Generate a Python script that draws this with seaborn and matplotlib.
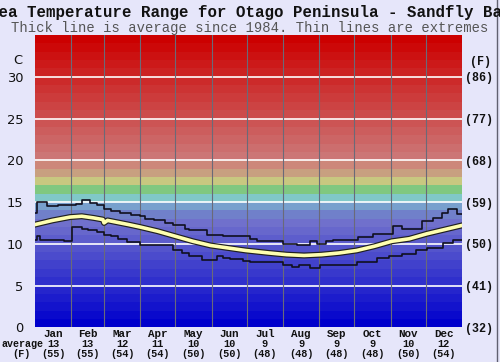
import numpy as np
import pandas as pd
import seaborn as sns
import matplotlib
matplotlib.use("Agg")
import matplotlib.pyplot as plt
import matplotlib.patheffects as pe
from matplotlib.transforms import blended_transform_factory
from matplotlib.lines import Line2D

# ---------------- data ----------------
months = ["Jan", "Feb", "Mar", "Apr", "May", "Jun", "Jul", "Aug", "Sep", "Oct", "Nov", "Dec"]
month_days = [31, 28, 31, 30, 31, 30, 31, 31, 30, 31, 30, 31]
avg_c = [13, 13, 12, 11, 10, 10, 9, 9, 9, 9, 10, 12]
avg_f = [55, 55, 54, 54, 50, 50, 48, 48, 48, 48, 50, 54]
ytick_c = [0, 5, 10, 15, 20, 25, 30]
ytick_f = ["(32)", "(41)", "(50)", "(59)", "(68)", "(77)", "(86)"]

# extremes (day of year where a step starts, temperature in C)
max_day = [0, 2, 10, 20, 27, 35, 40, 47, 53, 59, 65, 73, 82, 90, 94, 102, 111, 118, 128,
           132, 147, 154, 161, 184, 190, 212, 224, 235, 241, 249, 255, 276, 289, 306, 314,
           331, 340, 348, 353, 361, 365]
max_temp = [13.7, 15.0, 14.5, 14.7, 14.6, 14.8, 15.3, 14.9, 14.6, 14.2, 13.9, 13.7, 13.5,
            13.3, 13.0, 12.8, 12.5, 12.2, 11.8, 11.6, 11.1, 11.0, 10.9, 10.6, 10.3, 10.0,
            9.9, 10.3, 10.0, 10.3, 10.4, 10.8, 11.2, 12.1, 11.8, 12.7, 13.1, 13.7, 14.2,
            13.6, 13.6]
min_day = [0, 2, 4, 25, 32, 40, 45, 53, 59, 65, 71, 79, 90, 96, 118, 126, 132, 143, 156,
           161, 167, 178, 184, 212, 220, 226, 235, 244, 252, 275, 292, 303, 314, 326, 335,
           349, 357, 365]
min_temp = [10.4, 10.9, 10.5, 10.3, 12.0, 11.8, 11.6, 11.4, 11.1, 10.9, 10.6, 10.2, 9.9,
            9.8, 9.3, 8.9, 8.5, 8.1, 8.5, 8.3, 8.2, 7.9, 7.8, 7.4, 7.2, 7.4, 7.1, 7.4, 7.5,
            7.8, 8.3, 8.5, 8.8, 9.2, 9.5, 10.1, 10.4, 10.4]
avg_day = [0, 15, 30, 40, 50, 58, 59, 62, 80, 90, 105, 120, 135, 150, 165, 180, 200, 215,
           230, 245, 260, 275, 290, 305, 320, 335, 350, 365]
avg_temp = [12.3, 12.8, 13.2, 13.3, 13.1, 12.9, 12.5, 12.8, 12.3, 12.0, 11.5, 10.9, 10.3,
            9.8, 9.5, 9.2, 8.9, 8.7, 8.6, 8.7, 8.9, 9.2, 9.7, 10.3, 10.6, 11.2, 11.7, 12.2]

# ---------------- figure ----------------
W, H = 500, 362
fig = plt.figure(figsize=(W / 100, H / 100), dpi=100)
fig.patch.set_facecolor("#e6e6fa")
ax = fig.add_axes([35 / W, 1 - 327.3 / H, 427 / W, 292.3 / H])
ax.set_xlim(0, 365)
ax.set_ylim(0, 35)
for s in ax.spines.values():
    s.set_visible(False)


# background colour bands, one per degree
def band_color(k):
    if k <= 12:
        v = 112 * k / 12
        return (v / 255, v / 255, 204 / 255)
    if k == 13:
        return (112 / 255, 128 / 255, 202 / 255)
    if k == 14:
        return (120 / 255, 160 / 255, 205 / 255)
    fixed = {15: (128, 200, 200), 16: (128, 200, 128), 17: (200, 200, 128),
             18: (200, 160, 128), 19: (205, 135, 122)}
    if k in fixed:
        return tuple(c / 255 for c in fixed[k])
    t = (34 - k) / 14
    g = 118 * t
    return (204 / 255, g / 255, g / 255)


for k in range(35):
    ax.axhspan(k, k + 1, color=band_color(k), lw=0, zorder=0)

for y in ytick_c[1:]:
    ax.axhline(y, color="white", lw=1.2, zorder=1)

bounds = np.cumsum(month_days)[:-1]
for b in bounds:
    ax.axvline(b, color="#6a6a78", lw=0.8, zorder=1)

max_df = pd.DataFrame({"day": max_day, "temp": max_temp})
min_df = pd.DataFrame({"day": min_day, "temp": min_temp})
avg_df = pd.DataFrame({"day": avg_day, "temp": avg_temp})

sns.lineplot(data=max_df, x="day", y="temp", ax=ax, color="#101020", lw=1.2,
             drawstyle="steps-post", estimator=None, zorder=3)
sns.lineplot(data=min_df, x="day", y="temp", ax=ax, color="#101020", lw=1.2,
             drawstyle="steps-post", estimator=None, zorder=3)
sns.lineplot(data=avg_df, x="day", y="temp", ax=ax, color="#ffffb0", lw=2.6,
             estimator=None, zorder=4,
             path_effects=[pe.Stroke(linewidth=4.3, foreground="#202020"), pe.Normal()])

ax.set_xlabel("")
ax.set_ylabel("")
ax.set_xticks([])
ax.set_yticks(ytick_c)
ax.set_yticklabels([str(v) for v in ytick_c], fontsize=9.4, color="#111111",
                   family="DejaVu Sans")
ax.tick_params(axis="y", length=0, pad=8.5)

ax2 = ax.twinx()
ax2.set_ylim(0, 35)
ax2.set_yticks(ytick_c)
ax2.set_yticklabels(ytick_f, fontsize=8.4, family="Liberation Mono", weight="bold",
                    color="#111111")
ax2.tick_params(axis="y", length=0, pad=2)
for s in ax2.spines.values():
    s.set_visible(False)

# unit labels
fig.text(22.5 / W, 1 - 61 / H, "C", ha="right", va="center", fontsize=9.4,
         family="DejaVu Sans", color="#111111")
fig.text(481 / W, 1 - 62.5 / H, "(F)", ha="center", va="center", fontsize=8.4,
         family="Liberation Mono", weight="bold", color="#111111")

# titles
fig.text(0.5, 1 - 12 / H, "Sea Temperature Range for Otago Peninsula - Sandfly Bay",
         ha="center", va="center", fontsize=11.3, family="Liberation Mono",
         weight="bold", color="#111111")
fig.text(0.5, 1 - 28 / H, "Thick line is average since 1984. Thin lines are extremes",
         ha="center", va="center", fontsize=10, family="Liberation Mono",
         color="#555555")

# month labels and averages
tr = blended_transform_factory(ax.transData, fig.transFigure)
starts = np.concatenate([[0], np.cumsum(month_days)[:-1]])
for m, s0, nd, c, f in zip(months, starts, month_days, avg_c, avg_f):
    xm = s0 + nd / 2
    ax.text(xm, 1 - 334 / H, m, transform=tr, ha="center", va="center", fontsize=7.8,
            family="Liberation Mono", weight="bold", color="#111111")
    ax.text(xm, 1 - 344 / H, str(c), transform=tr, ha="center", va="center",
            fontsize=7.4, family="Liberation Mono", weight="bold", color="#111111")
    ax.text(xm, 1 - 354 / H, f"({f})", transform=tr, ha="center", va="center",
            fontsize=7.4, family="Liberation Mono", weight="bold", color="#111111")

fig.text(22 / W, 1 - 344 / H, "average", ha="center", va="center", fontsize=7.2,
         family="Liberation Mono", weight="bold", color="#111111")
fig.text(21 / W, 1 - 354 / H, "(F)", ha="center", va="center", fontsize=7.4,
         family="Liberation Mono", weight="bold", color="#111111")

fig.add_artist(Line2D([497 / W, 497 / W], [0, 1], transform=fig.transFigure,
                      color="#606070", lw=1))

fig.savefig("out.png", dpi=100, facecolor=fig.get_facecolor())
